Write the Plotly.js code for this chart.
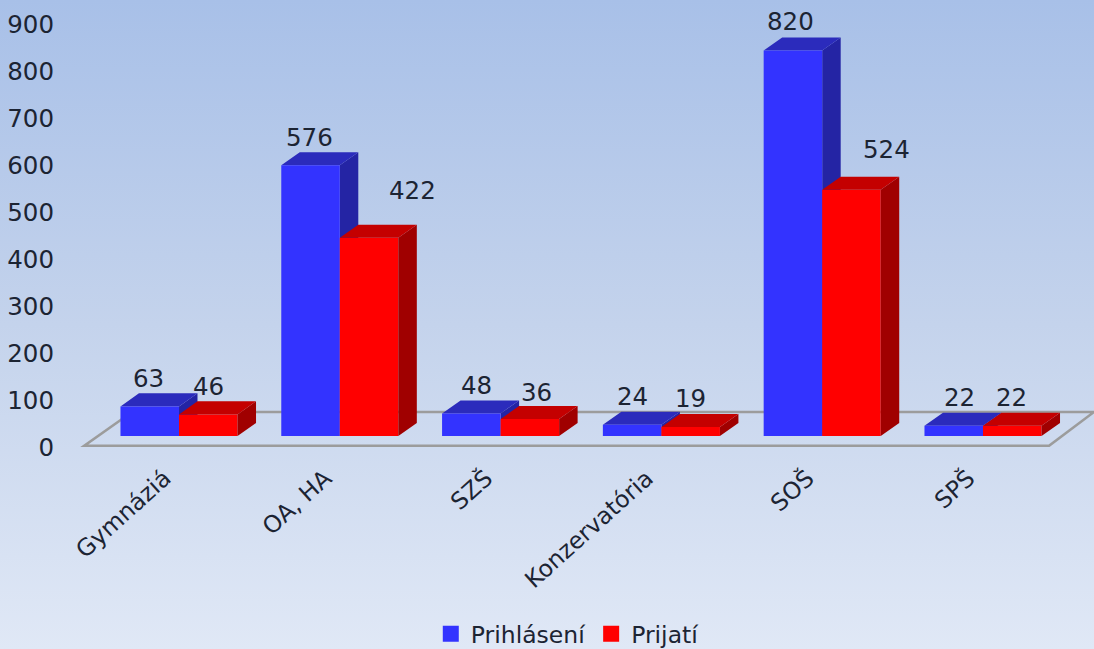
<!DOCTYPE html>
<html>
<head>
<meta charset="utf-8">
<script src="https://cdn.plot.ly/plotly-3.0.1.min.js"></script>
<style>
html,body{margin:0;padding:0;width:1094px;height:649px;overflow:hidden;background:linear-gradient(to bottom,#a8c0e8 0%,#c4d3ec 50%,#e0e8f6 100%);}
</style>
</head>
<body>
<div id="chart" style="width:1094px;height:649px"></div>
<script>
const categories = ["Gymnáziá","OA, HA","SZŠ","Konzervatória","SOŠ","SPŠ"];
const prihlaseni = [63,576,48,24,820,22];
const prijati = [46,422,36,19,524,22];
const seriesNames = ["Prihlásení","Prijatí"];
const yTicks = [0,100,200,300,400,500,600,700,800,900];

const barW = 0.364, depthX = 0.115, depthY = 27.7, labelShift = 0.09;
const idx = categories.map((_, i) => i);
const textColor = "#1c2433";
const fontFam = '"DejaVu Sans", sans-serif';
const blue = "#3333ff", red = "#ff0000";

function faces(values, off, kind) {
  const xs = [], ys = [];
  values.forEach((v, i) => {
    const l = i + off, r = l + barW;
    if (kind === "top") {
      xs.push(l, r, r + depthX, l + depthX, l, null);
      ys.push(v, v, v + depthY, v + depthY, v, null);
    } else {
      xs.push(r, r + depthX, r + depthX, r, r, null);
      ys.push(v, v + depthY, depthY, 0, v, null);
    }
  });
  return {x: xs, y: ys};
}
function faceTrace(values, off, kind, color, yaxis) {
  const f = faces(values, off, kind);
  return {type: "scatter", mode: "lines", x: f.x, y: f.y, yaxis, fill: "toself", fillcolor: color,
          line: {width: 0, color}, showlegend: false, hoverinfo: "skip"};
}
function legendKey(name, color) {
  return {type: "scatter", mode: "markers", name, x: [null], y: [null],
          marker: {symbol: "square", size: 16, color, line: {width: 0}}, hoverinfo: "skip"};
}

const traces = [
  {type: "scatter", mode: "markers", x: [0], y: [0], marker: {opacity: 0}, showlegend: false, hoverinfo: "skip"},
  legendKey(seriesNames[0], blue),
  legendKey(seriesNames[1], red),
  faceTrace(prihlaseni, -barW, "side", "#2424a4", "y2"),
  faceTrace(prihlaseni, -barW, "top", "#2b2bbc", "y2"),
  {type: "bar", name: seriesNames[0], x: idx, y: prihlaseni, yaxis: "y3", width: barW, offset: -barW, marker: {color: blue}, showlegend: false},
  {type: "bar", name: seriesNames[1], x: idx, y: prijati, yaxis: "y3", width: barW, offset: 0, marker: {color: red}, showlegend: false},
  faceTrace(prijati, 0, "side", "#a00000", "y3"),
  faceTrace(prijati, 0, "top", "#c40000", "y3")
];

const shift1 = [[-1,28],[-1,28],[5,28],[0,28],[-2,29],[6,28]];
const shift2 = [[0,28],[43,47],[7,27],[0,29],[35,40],[-1,28]];
const annotations = [];
[[prihlaseni, -barW/2, shift1],[prijati, barW/2, shift2]].forEach(([vals, off, sh]) => {
  vals.forEach((v, i) => annotations.push({
    x: i + off, y: v, xref: "x", yref: "y3", text: String(v), showarrow: false,
    xshift: sh[i][0], yshift: sh[i][1], xanchor: "center", yanchor: "middle",
    font: {family: fontFam, size: 24.5, color: textColor}
  }));
});

const layout = {
  width: 1094, height: 649,
  paper_bgcolor: "rgba(0,0,0,0)", plot_bgcolor: "rgba(0,0,0,0)",
  margin: {l: 64, r: 0, t: 24, b: 202, pad: 0},
  barmode: "overlay",
  showlegend: true,
  legend: {orientation: "h", xref: "container", yref: "container", x: 0.519, xanchor: "center", y: 0.023, yanchor: "middle",
           font: {family: fontFam, size: 23.5, color: textColor}, bgcolor: "rgba(0,0,0,0)", itemclick: false},
  xaxis: {range: [(64-179)/160.8, (1094-179)/160.8], tickmode: "array", tickvals: idx.map(i => i - labelShift), ticktext: categories,
          tickangle: -42, showgrid: false, zeroline: false, showline: false, ticks: "", ticklabelstandoff: 12,
          tickfont: {family: fontFam, size: 23.5, color: textColor}},
  yaxis: {range: [0, 900], tickmode: "array", tickvals: yTicks, showgrid: false, zeroline: false, showline: false,
          ticks: "", ticklabelstandoff: 9, tickfont: {family: fontFam, size: 24.5, color: textColor}},
  yaxis2: {range: [-23.4, 876.6], overlaying: "y", visible: false, fixedrange: true},
  yaxis3: {range: [-23.4, 876.6], overlaying: "y", visible: false, fixedrange: true},
  shapes: [{type: "path", xref: "x", yref: "y3", layer: "below",
            path: "M " + ((84-179)/160.8) + " -21 L " + ((1049-179)/160.8) + " -21 L " + ((1094-179)/160.8) + " 51 L " + ((132-179)/160.8) + " 51 Z",
            line: {color: "#9c9c9c", width: 2.5}, fillcolor: "rgba(0,0,0,0)"}],
  annotations
};
Plotly.newPlot("chart", traces, layout, {displayModeBar: false, staticPlot: true});
</script>
</body>
</html>
